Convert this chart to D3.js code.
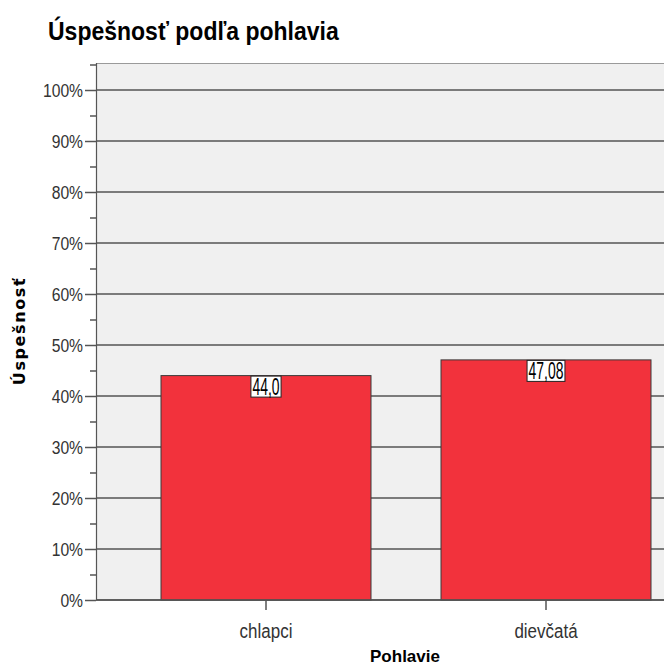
<!DOCTYPE html>
<html><head><meta charset="utf-8">
<script src="https://cdn.jsdelivr.net/npm/d3@7"></script>
<style>body{margin:0;background:#fff}</style>
</head><body>
<script>
const categories = ["chlapci", "dievčatá"];
const values = [44.0, 47.08];
const valueLabels = ["44,0", "47,08"];
const yTicks = [0, 10, 20, 30, 40, 50, 60, 70, 80, 90, 100];
const yMinorTicks = [5, 15, 25, 35, 45, 55, 65, 75, 85, 95, 105];

const W = 664, H = 667;
const svg = d3.select("body").append("svg").attr("width", W).attr("height", H);
const pLeft = 96, pTop = 63, pBottom = 600, pRight = W;
const y = d3.scaleLinear().domain([0, 100]).range([600, 90]);
const x = d3.scaleBand().domain(categories).range([126, 686]).paddingInner(0.25).paddingOuter(0.125);
const sans = "'Liberation Sans', Arial, sans-serif";

function squeeze(sel, k) {
  sel.each(function() {
    const t = d3.select(this);
    const x0 = +t.attr("x") || 0;
    t.attr("x", x0 / k).attr("transform", `scale(${k},1)`);
  });
}

svg.append("rect").attr("x", pLeft).attr("y", pTop).attr("width", pRight - pLeft).attr("height", pBottom - pTop).attr("fill", "#f0f0f0");
svg.append("line").attr("x1", pLeft).attr("x2", pRight).attr("y1", pTop + 0.5).attr("y2", pTop + 0.5).attr("stroke", "#9a9a9a").attr("stroke-width", 1);

// gridlines
svg.append("g").selectAll("line").data(yTicks).join("line")
  .attr("x1", pLeft).attr("x2", pRight)
  .attr("y1", d => y(d)).attr("y2", d => y(d))
  .attr("stroke", "#555").attr("stroke-width", 1.7);

// bars
svg.append("g").selectAll("rect").data(values).join("rect")
  .attr("x", (d, i) => x(categories[i]))
  .attr("width", x.bandwidth())
  .attr("y", d => y(d))
  .attr("height", d => y(0) - y(d))
  .attr("fill", "#f2323c").attr("stroke", "#3a3a3a").attr("stroke-width", 1);

// baseline
svg.append("line").attr("x1", pLeft).attr("x2", pRight).attr("y1", y(0)).attr("y2", y(0)).attr("stroke", "#555").attr("stroke-width", 1.7);

// y axis
const yAxis = d3.axisLeft(y).tickValues(yTicks).tickFormat(d => d + "%").tickSize(11).tickPadding(2);
const gy = svg.append("g").attr("transform", `translate(${pLeft},0)`).call(yAxis);
gy.select(".domain").remove();
gy.selectAll(".tick line").attr("stroke", "#555").attr("stroke-width", 1.5);
gy.selectAll("text").attr("font-family", sans).attr("font-size", 18).attr("fill", "#333").attr("dy", "0.36em");
squeeze(gy.selectAll("text"), 0.87);
const gym = svg.append("g").attr("transform", `translate(${pLeft},0)`)
  .call(d3.axisLeft(y).tickValues(yMinorTicks).tickSize(6).tickFormat(""));
gym.select(".domain").remove();
gym.selectAll(".tick line").attr("stroke", "#555").attr("stroke-width", 1.5);
svg.append("line").attr("x1", pLeft + 0.5).attr("x2", pLeft + 0.5).attr("y1", pTop).attr("y2", pBottom).attr("stroke", "#555").attr("stroke-width", 1.2);

// x axis
const gx = svg.append("g").attr("transform", `translate(0,${pBottom})`)
  .call(d3.axisBottom(x).tickSize(10).tickPadding(14));
gx.select(".domain").remove();
gx.selectAll(".tick line").attr("stroke", "#555").attr("stroke-width", 1.5);
gx.selectAll("text").attr("font-family", sans).attr("font-size", 19.5).attr("fill", "#333");
squeeze(gx.selectAll("text"), 0.87);

// value labels
const lab = svg.append("g").selectAll("g").data(values).join("g")
  .attr("transform", (d, i) => `translate(${x(categories[i]) + x.bandwidth() / 2},${y(d)})`);
lab.append("text").text((d, i) => valueLabels[i])
  .attr("text-anchor", "middle").attr("y", 19)
  .attr("font-family", sans).attr("font-size", 24).attr("fill", "#000")
  .attr("transform", "scale(0.58,1)");
lab.each(function() {
  const g = d3.select(this);
  const bb = g.select("text").node().getBBox();
  const w = bb.width * 0.58 + 3;
  g.insert("rect", "text").attr("x", -w / 2).attr("y", 0.5).attr("width", w).attr("height", 21)
    .attr("fill", "#fff").attr("stroke", "#222").attr("stroke-width", 1);
});

// titles
svg.append("text").text("Úspešnosť podľa pohlavia").attr("x", 48 / 0.92).attr("y", 40)
  .attr("transform", "scale(0.92,1)")
  .attr("font-family", sans).attr("font-weight", "bold").attr("font-size", 25).attr("fill", "#000");
svg.append("text").text("Pohlavie").attr("x", 405).attr("y", 662).attr("text-anchor", "middle")
  .attr("font-family", sans).attr("font-weight", "bold").attr("font-size", 17).attr("fill", "#000");
svg.append("text").text("Úspešnosť").attr("transform", "translate(25,331) rotate(-90)").attr("text-anchor", "middle")
  .attr("font-family", "'DejaVu Sans', sans-serif").attr("font-weight", "bold").attr("font-size", 16)
  .attr("letter-spacing", 1.6).attr("fill", "#000");
</script>
</body></html>
